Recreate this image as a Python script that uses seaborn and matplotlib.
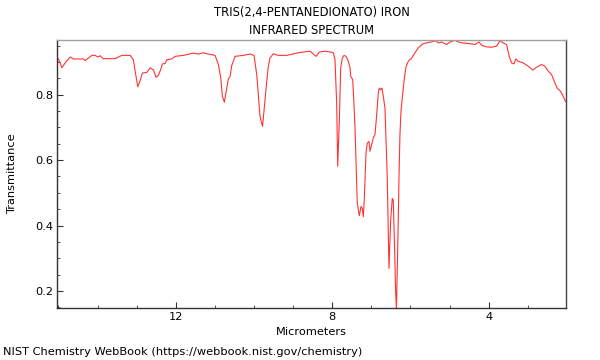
import numpy as np
import pandas as pd
import matplotlib
matplotlib.use("Agg")
import matplotlib.pyplot as plt
import seaborn as sns
from matplotlib.ticker import MultipleLocator

sns.set_theme(style="white")
plt.rcParams['font.family'] = ['DejaVu Sans']
plt.rcParams['text.color'] = 'black'
plt.rcParams['axes.labelcolor'] = 'black'

# Wavelength (micrometers) and transmittance
wavelength = [
    15.02, 14.957, 14.914, 14.829, 14.702, 14.617, 14.362, 14.318, 14.147, 14.063,
    13.994, 13.935, 13.858, 13.552, 13.380, 13.168, 13.084, 13.040, 12.971, 12.913,
    12.854, 12.741, 12.657, 12.573, 12.504, 12.445, 12.376, 12.342, 12.274, 12.230,
    12.102, 12.018, 11.806, 11.550, 11.422, 11.295, 11.167, 10.995, 10.911, 10.850,
    10.809, 10.758, 10.696, 10.656, 10.612, 10.569, 10.484, 10.272, 10.101, 9.999,
    9.930, 9.889, 9.846, 9.782, 9.718, 9.674, 9.633, 9.590, 9.505, 9.378,
    9.163, 8.866, 8.568, 8.483, 8.414, 8.330, 8.184, 8.038, 7.972, 7.929,
    7.885, 7.860, 7.818, 7.783, 7.742, 7.698, 7.647, 7.589, 7.545, 7.527,
    7.476, 7.443, 7.417, 7.384, 7.359, 7.307, 7.264, 7.231, 7.205, 7.180,
    7.136, 7.103, 7.060, 7.034, 6.991, 6.950, 6.906, 6.863, 6.822, 6.796,
    6.761, 6.727, 6.694, 6.651, 6.625, 6.592, 6.549, 6.505, 6.464, 6.439,
    6.413, 6.377, 6.357, 6.336, 6.311, 6.293, 6.268, 6.242, 6.198, 6.165,
    6.114, 6.055, 5.968, 5.884, 5.799, 5.672, 5.500, 5.347, 5.288, 5.201,
    5.073, 4.989, 4.861, 4.733, 4.434, 4.350, 4.248, 4.179, 4.051, 3.923,
    3.796, 3.711, 3.627, 3.540, 3.474, 3.412, 3.353, 3.302, 3.243, 3.116,
    2.988, 2.876, 2.773, 2.645, 2.561, 2.477, 2.390, 2.306, 2.247, 2.160,
    2.093, 2.032,
]
transmittance = [
    0.912, 0.897, 0.882, 0.897, 0.915, 0.909, 0.909, 0.904, 0.920, 0.920,
    0.915, 0.919, 0.910, 0.910, 0.920, 0.920, 0.907, 0.872, 0.824, 0.843,
    0.866, 0.868, 0.882, 0.876, 0.853, 0.859, 0.880, 0.894, 0.895, 0.907,
    0.909, 0.917, 0.920, 0.927, 0.924, 0.928, 0.924, 0.920, 0.892, 0.851,
    0.795, 0.777, 0.820, 0.848, 0.856, 0.889, 0.917, 0.920, 0.924, 0.920,
    0.861, 0.800, 0.734, 0.703, 0.784, 0.841, 0.887, 0.912, 0.925, 0.920,
    0.920, 0.928, 0.933, 0.924, 0.917, 0.930, 0.933, 0.930, 0.928, 0.907,
    0.769, 0.581, 0.720, 0.882, 0.912, 0.920, 0.917, 0.902, 0.882, 0.856,
    0.846, 0.769, 0.698, 0.566, 0.468, 0.430, 0.458, 0.453, 0.427, 0.478,
    0.622, 0.652, 0.657, 0.627, 0.647, 0.668, 0.678, 0.739, 0.805, 0.820,
    0.815, 0.820, 0.795, 0.759, 0.668, 0.545, 0.269, 0.417, 0.483, 0.478,
    0.366, 0.193, 0.145, 0.264, 0.417, 0.545, 0.678, 0.749, 0.800, 0.841,
    0.885, 0.902, 0.912, 0.928, 0.943, 0.956, 0.960, 0.965, 0.958, 0.961,
    0.953, 0.961, 0.966, 0.959, 0.955, 0.953, 0.961, 0.951, 0.946, 0.945,
    0.948, 0.965, 0.958, 0.953, 0.917, 0.897, 0.894, 0.909, 0.902, 0.897,
    0.887, 0.875, 0.884, 0.892, 0.887, 0.872, 0.861, 0.836, 0.820, 0.810,
    0.795, 0.778,
]

title_lines = ["TRIS(2,4-PENTANEDIONATO) IRON", "INFRARED SPECTRUM"]
x_label = "Micrometers"
y_label = "Transmittance"
footer = "NIST Chemistry WebBook (https://webbook.nist.gov/chemistry)"

df = pd.DataFrame({"um": wavelength, "T": transmittance})

fig = plt.figure(figsize=(6, 3.6), dpi=100)
ax = fig.add_axes([0.0955, 0.1453, 0.8473, 0.7436])

sns.lineplot(data=df, x="um", y="T", sort=False, estimator=None,
             color="#ff3333", linewidth=0.8, ax=ax)

ax.set_xlim(15.03, 2.03)
ax.set_ylim(0.149, 0.967)

ax.xaxis.set_major_locator(MultipleLocator(4))
ax.xaxis.set_minor_locator(MultipleLocator(1))
ax.yaxis.set_major_locator(MultipleLocator(0.2))
ax.yaxis.set_minor_locator(MultipleLocator(0.05))
ax.xaxis.set_major_formatter(matplotlib.ticker.FuncFormatter(lambda v, p: f"{v:.0f}"))
ax.yaxis.set_major_formatter(matplotlib.ticker.FuncFormatter(lambda v, p: f"{v:.1f}"))

ax.tick_params(axis="both", which="major", direction="in", length=4.5, width=0.8,
               color="#333333", labelsize=8.2, labelcolor="black", pad=3)
ax.tick_params(axis="both", which="minor", direction="in", length=2.5, width=0.6,
               color="#333333")
ax.tick_params(axis="x", which="both", bottom=True, top=False)
ax.tick_params(axis="y", which="both", left=True, right=False)

for side, col in [("left", "#333333"), ("bottom", "#333333"),
                  ("top", "#a0a0a0"), ("right", "#444444")]:
    ax.spines[side].set_visible(True)
    ax.spines[side].set_color(col)
    ax.spines[side].set_linewidth(1.0)

ax.set_xlabel(x_label, fontsize=8.2, labelpad=3.5)
ax.set_ylabel(y_label, fontsize=8.2, labelpad=13)
ax.set_title("\n".join(title_lines), fontsize=8.3, pad=4.5, linespacing=1.5)

fig.text(3 / 600, 1 - 352 / 360, footer, fontsize=8.2, ha="left", va="center")

fig.savefig("out.png", dpi=100)
